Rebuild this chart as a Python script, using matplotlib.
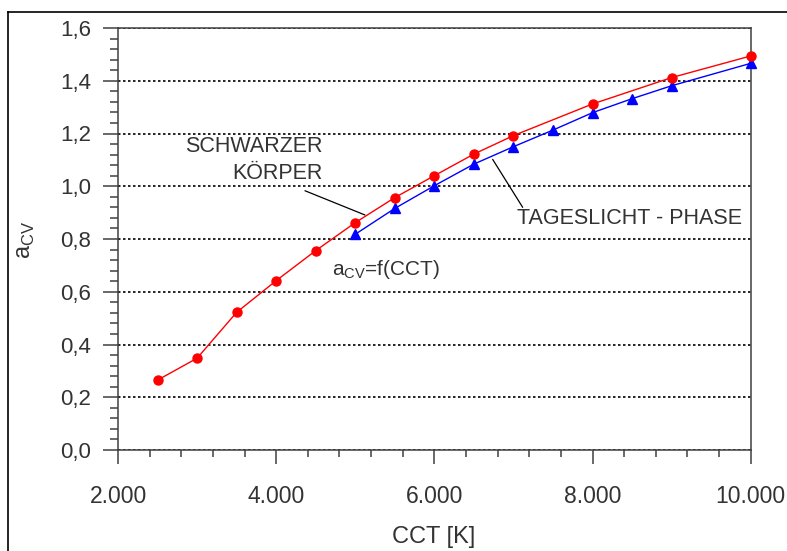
import matplotlib
matplotlib.use("Agg")
import matplotlib.pyplot as plt
from matplotlib.lines import Line2D
from matplotlib.ticker import MultipleLocator

# ---- data ----
cct_schwarz = [2500, 3000, 3500, 4000, 4500, 5000, 5500, 6000, 6500, 7000, 8000, 9000, 10000]
acv_schwarz = [0.265, 0.348, 0.522, 0.642, 0.756, 0.862, 0.957, 1.040, 1.122, 1.192, 1.312, 1.412, 1.494]

cct_tag = [5000, 5500, 6000, 6500, 7000, 7500, 8000, 8500, 9000, 10000]
acv_tag = [0.818, 0.916, 1.002, 1.084, 1.150, 1.213, 1.279, 1.332, 1.381, 1.466]

xticks = [2000, 4000, 6000, 8000, 10000]
xtick_labels = ['2.000', '4.000', '6.000', '8.000', '10.000']
yticks = [0.0, 0.2, 0.4, 0.6, 0.8, 1.0, 1.2, 1.4, 1.6]
ytick_labels = ['0,0', '0,2', '0,4', '0,6', '0,8', '1,0', '1,2', '1,4', '1,6']

plt.rcParams['font.family'] = ['Liberation Sans', 'DejaVu Sans']
TXT = '#333333'
SP = '#404040'

fig = plt.figure(figsize=(7.87, 5.51), dpi=100)
W, H = 787, 551
l, r, t, b = 118, 750.7, 28, 450
ax = fig.add_axes([l / W, 1 - b / H, (r - l) / W, (b - t) / H])

ax.plot(cct_schwarz, acv_schwarz, color='#ff0000', lw=1.0, marker='o', ms=6.5,
        mec='#ff0000', mfc='#ff0000', zorder=4, clip_on=False)
ax.plot(cct_tag, acv_tag, color='#0000ff', lw=1.0, marker='^', ms=6.5,
        mec='#0000ff', mfc='#0000ff', zorder=3, clip_on=False)

ax.set_xlim(2000, 10000)
ax.set_ylim(0, 1.6)
ax.set_xticks(xticks)
ax.set_xticklabels(xtick_labels)
ax.set_yticks(yticks)
ax.set_yticklabels(ytick_labels)
ax.xaxis.set_minor_locator(MultipleLocator(400))
ax.yaxis.set_minor_locator(MultipleLocator(0.04))

ax.tick_params(axis='x', which='major', direction='out', length=10, width=1.1,
               color=SP, labelsize=16.5, labelcolor=TXT, pad=15)
ax.tick_params(axis='x', which='minor', direction='out', length=5, width=1.1, color=SP)
ax.tick_params(axis='y', which='major', direction='out', length=10.5, width=1.1,
               color=SP, labelsize=16, labelcolor=TXT, pad=9)
ax.tick_params(axis='y', which='minor', direction='out', length=5.8, width=1.1, color=SP)

for s in ax.spines.values():
    s.set_color(SP)
    s.set_linewidth(1.1)

ax.yaxis.grid(True, which='major', color='black', linestyle=(0, (1.5, 1.5)), linewidth=1.2)
ax.set_axisbelow(True)

# axis labels
fig.text(434 / W, 1 - 537 / H, 'CCT [K]', ha='center', va='center', fontsize=17, color=TXT)
fig.text(26 / W, 1 - 240 / H, r'a$_\mathregular{CV}$', ha='center', va='center',
         rotation=90, fontsize=17, color=TXT)

# annotations
ax.text(4592, 1.10, 'SCHWARZER\nKÖRPER', ha='right', va='center', multialignment='right',
        fontsize=15.5, color=TXT, linespacing=1.35)
ax.annotate('', xy=(5123, 0.891), xytext=(4364, 0.983),
            arrowprops=dict(arrowstyle='-', color='black', lw=0.9, shrinkA=0, shrinkB=0))
ax.annotate('', xy=(6737, 1.102), xytext=(7117, 0.920),
            arrowprops=dict(arrowstyle='-', color='black', lw=0.9, shrinkA=0, shrinkB=0))
ax.text(7041, 0.876, 'TAGESLICHT - PHASE', ha='left', va='center', fontsize=15.5, color=TXT)
ax.text(4702, 0.685, r'a$_\mathregular{CV}$=f(CCT)', ha='left', va='center',
        fontsize=15, color=TXT)

# figure border (left and top)
fig.add_artist(Line2D([8.3 / W, 8.3 / W], [0, 1 - 11.5 / H], transform=fig.transFigure,
                      color='black', lw=1.2))
fig.add_artist(Line2D([8.3 / W, 1], [1 - 11.5 / H, 1 - 11.5 / H], transform=fig.transFigure,
                      color='black', lw=1.2))

fig.savefig('out.png', dpi=100)
